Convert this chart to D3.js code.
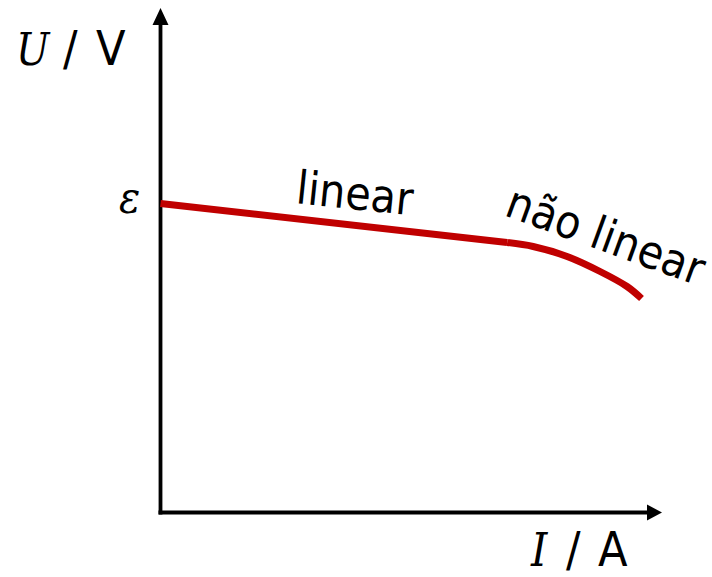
<!DOCTYPE html>
<html>
<head>
<meta charset="utf-8">
<script src="https://cdn.jsdelivr.net/npm/d3@7"></script>
<style>
html,body{margin:0;padding:0;background:#fff;}
svg{display:block;}
</style>
</head>
<body>
<script>
// Data (current I in arbitrary units 0..10, voltage U 0..10)
const linearI = [0, 6.94];
const linearU = [6.18, 5.40];
const nonlinearI = [6.94, 7.46, 8.14, 8.80, 9.34, 9.63];
const nonlinearU = [5.40, 5.32, 5.12, 4.82, 4.52, 4.28];
const emfLabel = "ε";
const segmentLabels = ["linear", "não linear"];

const W = 712, H = 577;
const svg = d3.select("body").append("svg").attr("width", W).attr("height", H);

const x = d3.scaleLinear().domain([0, 10]).range([160.5, 660]);
const y = d3.scaleLinear().domain([0, 10]).range([512.5, 12.5]);

const sans = "'DejaVu Sans Condensed', 'DejaVu Sans', sans-serif";
const serif = "'DejaVu Serif Condensed', 'DejaVu Serif', 'Liberation Serif', serif";

// axes
const x0 = x(0), y0 = y(0);
svg.append("line").attr("x1", x0).attr("y1", y0 + 2).attr("x2", x0).attr("y2", 24)
  .attr("stroke", "#000").attr("stroke-width", 3.8);
svg.append("line").attr("x1", x0 - 2).attr("y1", y0).attr("x2", 648).attr("y2", y0)
  .attr("stroke", "#000").attr("stroke-width", 3.8);
svg.append("path").attr("d", `M${x0},8 L${x0 + 8},25 L${x0 - 8},25 Z`).attr("fill", "#000");
svg.append("path").attr("d", `M662,${y0} L647,${y0 - 8} L647,${y0 + 8} Z`).attr("fill", "#000");

// curve
const lin = linearI.map((v, i) => [v, linearU[i]]);
const nonlin = nonlinearI.map((v, i) => [v, nonlinearU[i]]);
svg.append("path").attr("d", d3.line().x(d => x(d[0])).y(d => y(d[1]))(lin)).attr("fill", "none")
  .attr("stroke", "#c00000").attr("stroke-width", 7);
svg.append("path").attr("d", d3.line().x(d => x(d[0])).y(d => y(d[1])).curve(d3.curveCatmullRom)(nonlin))
  .attr("fill", "none").attr("stroke", "#c00000").attr("stroke-width", 7);

// labels
function lab(px, py, txt, font, size, italic) {
  svg.append("text").attr("x", px).attr("y", py).attr("font-size", size)
    .attr("font-family", font).attr("font-style", italic ? "italic" : "normal").text(txt);
}
lab(16, 65, "U", serif, 44, true);
lab(63, 65, "/", sans, 48, false);
lab(96, 65, "V", sans, 48, false);

lab(531, 566, "I", serif, 46, true);
lab(566, 566, "/", sans, 48, false);
lab(598, 566, "A", sans, 48, false);

lab(119, 213, emfLabel, serif, 44, true);

svg.append("text").attr("transform", "translate(295,203) rotate(6)")
  .attr("font-size", 46).attr("font-family", sans).text(segmentLabels[0]);
svg.append("text").attr("transform", "translate(503,215) rotate(20)")
  .attr("font-size", 46).attr("font-family", sans).text(segmentLabels[1]);
</script>
</body>
</html>
